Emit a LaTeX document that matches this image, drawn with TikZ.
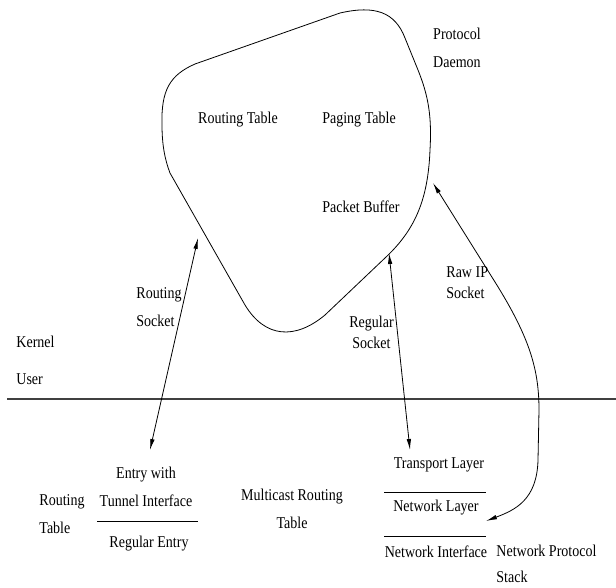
\documentclass[tikz,border=0pt]{standalone}
\usepackage{fontspec}
\setmainfont{Liberation Serif}[FakeStretch=0.85]
\usetikzlibrary{arrows.meta,positioning}

\begin{document}
\begin{tikzpicture}[x=1pt,y=-1pt,line width=0.8pt,
  lbl/.style={inner sep=0pt,font=\fontsize{16.5}{28}\selectfont},
  sock/.style={<->,>={Latex[length=11pt,width=4.5pt]}},
  layer/.style={line width=1pt}]
  \useasboundingbox (0,0) rectangle (616,587);
  % the daemon blob
  \draw (162,125) .. controls (161,90) and (170,75) .. (195,64) -- (340,13)
    .. controls (375,5) and (395,12) .. (405,38) -- (418,70)
    .. controls (428,95) and (432,115) .. (430,150)
    .. controls (428,200) and (415,230) .. (385,258) -- (325,315)
    .. controls (295,340) and (265,338) .. (245,305) -- (170,173)
    .. controls (165,160) and (162,145) .. (162,125) -- cycle;
  \node[lbl,align=left](daemon) at (457,47.5) {Protocol\\Daemon};
  \node[lbl](rtab) at (238,120) {Routing Table};
  \node[lbl](ptab) at (359,120) {Paging Table};
  \node[lbl](pbuf) at (361,207) {Packet Buffer};
  % kernel / user
  \node[lbl,anchor=west](kernel) at (16,342) {Kernel};
  \node[lbl,anchor=west](user) at (16,379) {User};
  \coordinate (ku1) at (7,399);
  \coordinate (ku2) at (616,399);
  \draw[line width=1.3pt,black!75] (ku1) -- (ku2);
  % routing table (user)
  \node[lbl,align=left,anchor=west](urt) at (39,514.5) {Routing\\Table};
  \node[lbl,align=center](tunnel) at (146,487) {Entry with\\Tunnel Interface};
  \node[lbl](regentry) at (149,544) {Regular Entry};
  \coordinate (rt1) at (97,521);
  \coordinate (rt2) at (198,521);
  \draw[layer] (rt1) -- (rt2);
  \node[lbl,align=center](mcast) at (292,509) {Multicast Routing\\Table};
  % protocol stack
  \node[lbl](transport) at (439,465) {Transport Layer};
  \node[lbl](netlayer) at (436,508) {Network Layer};
  \node[lbl](netif) at (436,552) {Network Interface};
  \node[lbl,align=left,anchor=west](stack) at (496,564) {Network Protocol\\[-2pt]Stack};
  \coordinate (tl1) at (384,492);
  \coordinate (tl2) at (486,492);
  \coordinate (nl1) at (384,536);
  \coordinate (nl2) at (486,536);
  \draw[layer] (tl1) -- (tl2);
  \draw[layer] (nl1) -- (nl2);
  % sockets
  \coordinate (rs top) at (198,238);
  \coordinate (rs bot) at (150,450);
  \coordinate (gs top) at (389,253);
  \coordinate (gs bot) at (410,450);
  \coordinate (ip top) at (433,183);
  \coordinate (ip bot) at (486,521);
  \draw[sock] (rs top) -- (rs bot);
  \draw[sock] (gs top) -- (gs bot);
  \draw[sock] (ip top) -- (495,282) .. controls (530,338) and (539,370) .. (539,410)
    -- (538,460) .. controls (537,500) and (515,510) .. (ip bot);
  \node[lbl,align=left,anchor=west](rsock) at (136,307.5) {Routing\\Socket};
  \node[lbl,align=center](gsock) at (371.5,332.5) {Regular\\[-7pt]Socket};
  \node[lbl,align=left,anchor=west](ipsock) at (446,282.5) {Raw IP\\[-7pt]Socket};
\end{tikzpicture}
\end{document}
